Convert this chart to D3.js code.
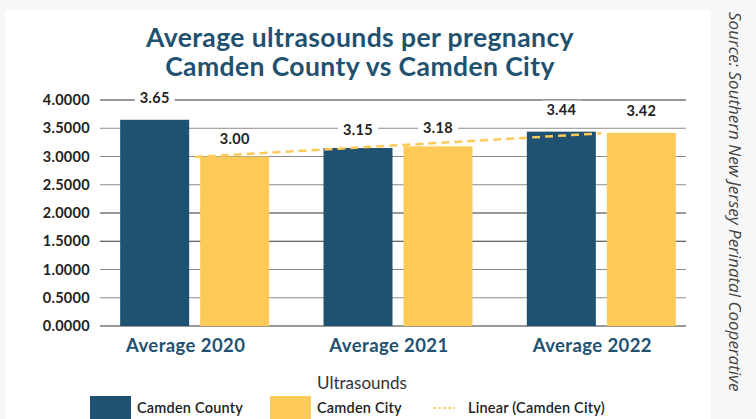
<!DOCTYPE html>
<html>
<head>
<meta charset="utf-8">
<script src="https://cdn.jsdelivr.net/npm/d3@7"></script>
<style>
  body { margin: 0; background: #f7f7f7; }
  svg { display: block; }
</style>
</head>
<body>
<svg width="756" height="419"></svg>
<script>
let categories = ['Average 2020', 'Average 2021', 'Average 2022']
let county = [3.65, 3.15, 3.44]
let city = [3.00, 3.18, 3.42]
let yTicks = [0, 0.5, 1, 1.5, 2, 2.5, 3, 3.5, 4]
let seriesNames = ['Camden County', 'Camden City']

let navy = '#1f5170'
let yellow = '#fdca58'
let width = 756
let height = 419

let svg = d3.select('svg')

// white card
svg.append('rect')
  .attr('x', 5).attr('y', 10)
  .attr('width', 706).attr('height', 409)
  .attr('fill', '#fff')

let xScale = d3.scaleBand()
  .domain(categories)
  .range([90, 700])

let yScale = d3.scaleLinear()
  .domain([0, 4])
  .range([326, 100])

// gridlines
let darkLines = [0, 2, 1.5, 4]
svg.append('g')
  .selectAll('line')
  .data(yTicks)
  .enter()
  .append('line')
  .attr('x1', 100).attr('x2', 686)
  .attr('y1', d => yScale(d)).attr('y2', d => yScale(d))
  .attr('stroke', d => darkLines.includes(d) ? '#333' : '#8a8a8a')
  .attr('stroke-width', 1)

// y labels
svg.append('g')
  .selectAll('text')
  .data(yTicks)
  .enter()
  .append('text')
  .attr('x', 90)
  .attr('y', d => yScale(d))
  .attr('dy', '0.35em')
  .attr('text-anchor', 'end')
  .attr('font-family', 'Lato, sans-serif')
  .attr('font-weight', 'bold')
  .attr('font-size', 14.5)
  .attr('letter-spacing', 0.3)
  .attr('fill', '#222')
  .text(d => d.toFixed(4))

let barW = 69
let gap = 11
let shift = 3
let series = [county, city]
let colors = [navy, yellow]

let bars = []
series.forEach((vals, s) => {
  vals.forEach((v, i) => {
    let cx = xScale(categories[i]) + xScale.bandwidth() / 2 + shift
    let x = s === 0 ? cx - gap / 2 - barW : cx + gap / 2
    bars.push({ x, v, s })
  })
})

svg.append('g')
  .selectAll('rect')
  .data(bars)
  .enter()
  .append('rect')
  .attr('x', d => d.x)
  .attr('y', d => yScale(d.v))
  .attr('width', barW)
  .attr('height', d => yScale(0) - yScale(d.v))
  .attr('fill', d => colors[d.s])

// linear trendline for city
let n = city.length
let xs = city.map((d, i) => i + 1)
let mx = d3.mean(xs)
let my = d3.mean(city)
let slope = d3.sum(xs, (x, i) => (x - mx) * (city[i] - my)) / d3.sum(xs, x => (x - mx) ** 2)
let intercept = my - slope * mx
let trend = [1, n].map(x => ({
  x: xScale(categories[x - 1]) + xScale.bandwidth() / 2 + shift,
  y: intercept + slope * x
}))

svg.append('path')
  .attr('d', d3.line().x(d => d.x).y(d => yScale(d.y))(trend))
  .attr('fill', 'none')
  .attr('stroke', yellow)
  .attr('stroke-width', 2.5)
  .attr('stroke-dasharray', '8,5')

// value labels with white backing
let labels = svg.append('g')
bars.forEach(d => {
  let offset = d.v > 3.3 ? 17 : 13
  let g = labels.append('g')
  let t = g.append('text')
    .attr('x', d.x + barW / 2)
    .attr('y', yScale(d.v) - offset)
    .attr('text-anchor', 'middle')
    .attr('font-family', 'Lato, sans-serif')
    .attr('font-weight', 'bold')
    .attr('font-size', 14.5)
    .attr('letter-spacing', 0.3)
    .attr('fill', '#222')
    .text(d.v.toFixed(2))
  let b = t.node().getBBox()
  g.insert('rect', 'text')
    .attr('x', b.x - 5).attr('y', b.y)
    .attr('width', b.width + 10).attr('height', b.height)
    .attr('fill', '#fff')
})

// x labels
svg.append('g')
  .selectAll('text')
  .data(categories)
  .enter()
  .append('text')
  .attr('x', d => xScale(d) + xScale.bandwidth() / 2 - 6)
  .attr('y', 352)
  .attr('text-anchor', 'middle')
  .attr('font-family', 'Lato, sans-serif')
  .attr('font-weight', 'bold')
  .attr('font-size', 18.5)
  .attr('letter-spacing', 0.4)
  .attr('fill', navy)
  .text(d => d)

// title
let title = ['Average ultrasounds per pregnancy', 'Camden County vs Camden City']
svg.append('g')
  .selectAll('text')
  .data(title)
  .enter()
  .append('text')
  .attr('x', 360)
  .attr('y', (d, i) => 47 + i * 29)
  .attr('text-anchor', 'middle')
  .attr('font-family', 'Lato, sans-serif')
  .attr('font-weight', 'bold')
  .attr('font-size', 26.5)
  .attr('letter-spacing', 0.4)
  .attr('fill', navy)
  .text(d => d)

// legend
svg.append('text')
  .attr('x', 362).attr('y', 389)
  .attr('text-anchor', 'middle')
  .attr('font-family', 'Lato, sans-serif')
  .attr('font-size', 17)
  .attr('fill', '#333')
  .text('Ultrasounds')

let legendX = [90, 270]
seriesNames.forEach((name, i) => {
  svg.append('rect')
    .attr('x', legendX[i]).attr('y', 396)
    .attr('width', 41).attr('height', 30)
    .attr('fill', colors[i])
  svg.append('text')
    .attr('x', legendX[i] + 47).attr('y', 413)
    .attr('font-family', 'Lato, sans-serif')
    .attr('font-weight', 600)
    .attr('font-size', 14.5)
    .attr('letter-spacing', 0.2)
    .attr('fill', '#222')
    .text(name)
})
svg.append('line')
  .attr('x1', 433).attr('x2', 455)
  .attr('y1', 408).attr('y2', 408)
  .attr('stroke', yellow)
  .attr('stroke-width', 1.5)
  .attr('stroke-dasharray', '3,2')
svg.append('text')
  .attr('x', 468).attr('y', 413)
  .attr('font-family', 'Lato, sans-serif')
  .attr('font-weight', 600)
  .attr('font-size', 14.5)
  .attr('letter-spacing', 0.2)
  .attr('fill', '#222')
  .text('Linear (Camden City)')

// source
svg.append('text')
  .attr('transform', 'translate(729, 12) rotate(90)')
  .attr('font-family', 'Open Sans, sans-serif')
  .attr('font-style', 'italic')
  .attr('font-size', 17)
  .attr('fill', '#444')
  .text('Source: Southern New Jersey Perinatal Cooperative')
</script>
</body>
</html>
